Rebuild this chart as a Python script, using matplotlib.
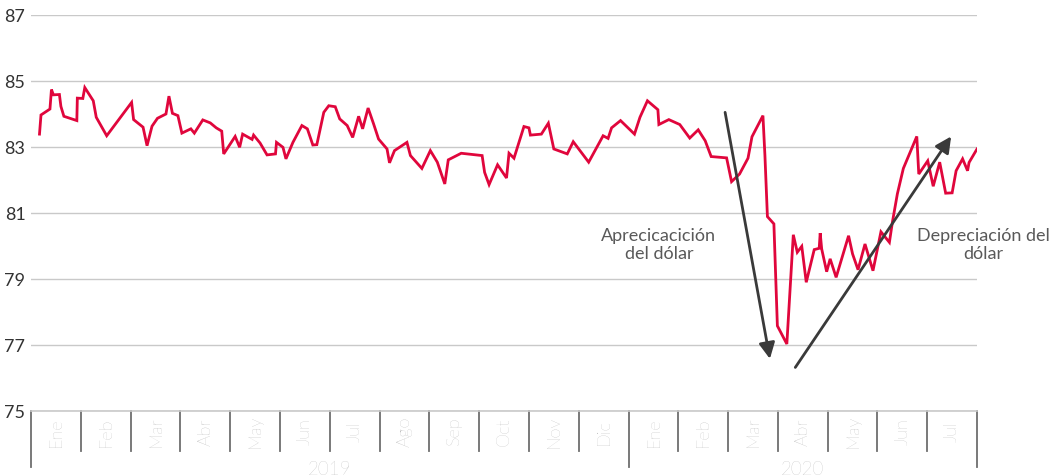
import matplotlib
matplotlib.use("Agg")
import matplotlib.pyplot as plt
import matplotlib.transforms as mtransforms

plt.rcParams['font.family'] = ['Lato', 'DejaVu Sans']

# position in months since Jan 2019 (0 = start of Ene 2019)
t = [0.17, 0.20, 0.38, 0.41, 0.45, 0.57, 0.60, 0.66, 0.92, 0.93,
     1.04, 1.08, 1.25, 1.31, 1.52, 2.02, 2.06, 2.25, 2.33, 2.43,
     2.54, 2.71, 2.77, 2.84, 2.95, 3.03, 3.21, 3.28, 3.45, 3.60,
     3.72, 3.83, 3.87, 4.10, 4.19, 4.25, 4.44, 4.47, 4.60, 4.74,
     4.91, 4.93, 5.06, 5.12, 5.26, 5.44, 5.55, 5.66, 5.74, 5.88,
     5.98, 6.11, 6.20, 6.35, 6.46, 6.58, 6.66, 6.77, 6.88, 6.98,
     7.15, 7.20, 7.30, 7.55, 7.62, 7.85, 8.02, 8.16, 8.31, 8.38,
     8.64, 9.06, 9.11, 9.20, 9.37, 9.55, 9.60, 9.70, 9.90, 10.00,
     10.03, 10.25, 10.39, 10.50, 10.77, 10.89, 11.20, 11.49, 11.59, 11.66,
     11.84, 12.12, 12.23, 12.38, 12.59, 12.61, 12.81, 13.03, 13.23, 13.40,
     13.54, 13.66, 13.97, 14.07, 14.23, 14.40, 14.48, 14.70, 14.74, 14.79,
     14.92, 14.99, 15.18, 15.31, 15.39, 15.48, 15.57, 15.73, 15.83, 15.85,
     15.88, 15.98, 16.05, 16.17, 16.42, 16.50, 16.61, 16.75, 16.91, 17.07,
     17.24, 17.30, 17.40, 17.52, 17.79, 17.83, 18.01, 18.12, 18.25, 18.37,
     18.50, 18.58, 18.71, 18.81, 18.84, 19.00]

valor = [83.39, 83.97, 84.15, 84.74, 84.58, 84.59, 84.23, 83.93, 83.80, 84.48,
         84.47, 84.80, 84.40, 83.90, 83.34, 84.35, 83.83, 83.60, 83.04, 83.63,
         83.87, 84.00, 84.54, 84.02, 83.95, 83.42, 83.55, 83.42, 83.82, 83.73,
         83.58, 83.48, 82.79, 83.32, 82.99, 83.39, 83.23, 83.36, 83.12, 82.76,
         82.79, 83.14, 82.99, 82.64, 83.14, 83.65, 83.55, 83.06, 83.07, 84.05,
         84.25, 84.22, 83.85, 83.65, 83.29, 83.93, 83.55, 84.18, 83.70, 83.24,
         82.94, 82.52, 82.89, 83.14, 82.74, 82.35, 82.89, 82.54, 81.88, 82.61,
         82.81, 82.74, 82.23, 81.86, 82.46, 82.06, 82.81, 82.66, 83.62, 83.58,
         83.36, 83.39, 83.72, 82.94, 82.79, 83.16, 82.54, 83.34, 83.26, 83.58,
         83.80, 83.39, 83.90, 84.40, 84.13, 83.68, 83.83, 83.68, 83.27, 83.52,
         83.19, 82.71, 82.67, 81.95, 82.18, 82.66, 83.31, 83.95, 82.74, 80.89,
         80.67, 77.58, 77.03, 80.34, 79.81, 79.99, 78.90, 79.89, 79.93, 80.39,
         79.91, 79.22, 79.61, 79.05, 80.31, 79.76, 79.28, 80.06, 79.25, 80.43,
         80.11, 80.72, 81.58, 82.35, 83.32, 82.18, 82.58, 81.81, 82.54, 81.60,
         81.61, 82.28, 82.64, 82.28, 82.53, 82.94]

meses = ["Ene", "Feb", "Mar", "Abr", "May", "Jun", "Jul", "Ago", "Sep", "Oct", "Nov", "Dic",
         "Ene", "Feb", "Mar", "Abr", "May", "Jun", "Jul"]
anios = ["2019", "2020"]
anio_inicio = [0, 12]
anio_fin = [12, 19]
yticks = [75, 77, 79, 81, 83, 85, 87]

fig = plt.figure(figsize=(10.59, 4.77), dpi=100)
ax = fig.add_axes([0.0293, 0.1363, 0.8933, 0.8302])

ax.plot(t, valor, color="#e0063c", lw=2.0, zorder=3, solid_joinstyle="miter")

ax.set_xlim(0, 19)
ax.set_ylim(75, 87)
ax.set_yticks(yticks)
ax.set_yticklabels([str(y) for y in yticks], fontsize=13, color="#333333")
ax.tick_params(axis="y", length=0, pad=4)
ax.set_xticks([])
ax.grid(axis="y", color="#c9c9c9", lw=1)
ax.set_axisbelow(True)
for s in ["top", "right", "left"]:
    ax.spines[s].set_visible(False)
ax.spines["bottom"].set_color("#c9c9c9")
ax.spines["bottom"].set_linewidth(1.2)

# month and year labels under the axis
trans = mtransforms.blended_transform_factory(ax.transData, ax.transAxes)
for i, m in enumerate(meses):
    ax.text(i + 0.5, -0.05, m, rotation=90, ha="center", va="center",
            fontsize=13, color="#a6a6a6", fontweight="light", transform=trans)
for i in range(len(meses) + 1):
    largo = -0.142 if i in anio_inicio + anio_fin else -0.101
    ax.plot([i, i], [0, largo], color="#6e6e6e", lw=1.3, transform=trans, clip_on=False)
for a, i0, i1 in zip(anios, anio_inicio, anio_fin):
    ax.text((i0 + i1) / 2, -0.146, a, ha="center", va="center",
            fontsize=13.5, color="#a6a6a6", fontweight="light", transform=trans)

# arrows and notes
ax.annotate("", xy=(14.84, 76.58), xytext=(13.94, 84.05),
            arrowprops=dict(arrowstyle="-|>", color="#3a3a3a", lw=2, mutation_scale=24, shrinkA=0, shrinkB=0),
            zorder=4)
ax.annotate("", xy=(18.48, 83.32), xytext=(15.35, 76.32),
            arrowprops=dict(arrowstyle="-|>", color="#3a3a3a", lw=2, mutation_scale=24, shrinkA=0, shrinkB=0),
            zorder=4)
ax.text(12.61, 80.06, "Aprecicacición\ndel dólar", ha="center", va="center",
        fontsize=13, color="#595959", linespacing=1.15)
ax.text(19.12, 80.06, "Depreciación del\ndólar", ha="center", va="center",
        fontsize=13, color="#595959", linespacing=1.15, clip_on=False)

fig.savefig("out.png", dpi=100)
